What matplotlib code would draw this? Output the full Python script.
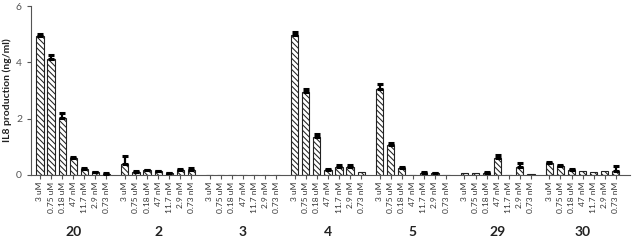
import numpy as np
import matplotlib.pyplot as plt

plt.rcParams['font.family'] = ['Lato', 'DejaVu Sans']
plt.rcParams['hatch.linewidth'] = 0.75

compounds = ['20', '2', '3', '4', '5', '29', '30']
doses = ['3 uM', '0.75 uM', '0.18 uM', '47 nM', '11.7 nM', '2.9 nM', '0.73 nM']

# IL8 production (ng/ml), one row per compound
values = [
    [4.93, 4.11, 2.01, 0.59, 0.20, 0.10, 0.04],
    [0.38, 0.12, 0.16, 0.13, 0.06, 0.17, 0.19],
    [0.0, 0.0, 0.0, 0.0, 0.0, 0.0, 0.0],
    [4.96, 2.95, 1.34, 0.17, 0.27, 0.27, 0.10],
    [3.05, 1.06, 0.26, 0.01, 0.07, 0.06, 0.0],
    [0.06, 0.06, 0.07, 0.59, 0.0, 0.30, 0.05],
    [0.41, 0.33, 0.18, 0.14, 0.12, 0.14, 0.15],
]
errors = [
    [0.09, 0.17, 0.20, 0.04, 0.05, 0.02, 0.02],
    [0.29, 0.03, 0.03, 0.02, 0.02, 0.05, 0.06],
    [0.0, 0.0, 0.0, 0.0, 0.0, 0.0, 0.0],
    [0.11, 0.10, 0.10, 0.05, 0.08, 0.10, 0.0],
    [0.17, 0.06, 0.04, 0.0, 0.03, 0.02, 0.0],
    [0.0, 0.0, 0.03, 0.11, 0.0, 0.11, 0.0],
    [0.06, 0.03, 0.03, 0.0, 0.0, 0.0, 0.18],
]

group_step = 7.66

fig = plt.figure(figsize=(6.37, 2.44), dpi=100)
ax = fig.add_axes([0.0487, 0.283, 0.94, 0.692])

xs_all, labels_all = [], []
for g, name in enumerate(compounds):
    xs = g * group_step + np.arange(len(doses))
    vals = np.array(values[g])
    errs = np.array(errors[g])
    ax.bar(xs, vals, width=0.65, color='white', edgecolor='#222222',
           hatch='\\\\\\\\\\\\', linewidth=0.8, zorder=2)
    mask = errs > 0
    ax.errorbar(xs[mask], vals[mask], yerr=[np.zeros(mask.sum()), errs[mask]],
                fmt='none', ecolor='black', elinewidth=1.6, capsize=2.5,
                capthick=2.2, zorder=3)
    xs_all.extend(xs)
    labels_all.extend(doses)
    ax.text(xs.mean(), -0.335, name, transform=ax.get_xaxis_transform(),
            ha='center', va='center', fontsize=10, fontweight='bold',
            color='#222222')

ax.set_xticks(xs_all)
ax.set_xticklabels(labels_all, rotation=90, fontsize=6, color='#333333')
ax.set_xlim(-0.81, 6 * group_step + 6 + 1.26)
ax.set_ylim(0, 6)
ax.set_yticks([0, 2, 4, 6])
ax.tick_params(axis='y', labelsize=7.5, colors='#555555', length=3)
ax.tick_params(axis='x', length=3, color='#555555', pad=2)
ax.set_ylabel('IL8 production (ng/ml)', fontsize=7.5, fontweight='bold',
              color='#222222', labelpad=3)

for side in ['top', 'right']:
    ax.spines[side].set_visible(False)
for side in ['left', 'bottom']:
    ax.spines[side].set_color('#555555')
    ax.spines[side].set_linewidth(0.8)

fig.savefig('out.png', dpi=100)
